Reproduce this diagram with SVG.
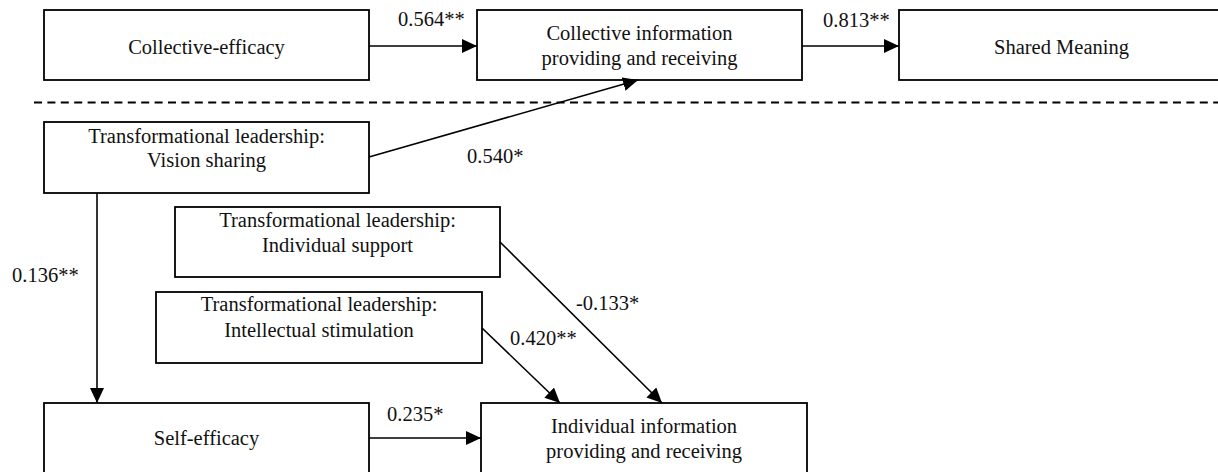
<svg xmlns="http://www.w3.org/2000/svg" width="1218" height="472" viewBox="0 0 1218 472">
<style>
.box{fill:#fff;stroke:#000;stroke-width:1.8}
.t{font-family:'Liberation Serif','DejaVu Serif',serif;font-size:20.5px;fill:#111}
.m{text-anchor:middle}
.c{stroke:#000;stroke-width:1.6;fill:none;marker-end:url(#ah)}
</style>
<defs>
<marker id="ah" markerUnits="userSpaceOnUse" markerWidth="16" markerHeight="15" refX="15" refY="7" orient="auto">
<path d="M0,0 L15,7 L0,14 z" fill="#000"/>
</marker>
</defs>
<rect width="1218" height="472" fill="#fff"/>
<line x1="34" y1="102.5" x2="1218" y2="102.5" stroke="#000" stroke-width="2" stroke-dasharray="8,5.4"/>
<g id="collective-efficacy"><rect class="box" x="44" y="10" width="325" height="70"/><text class="t m" x="206.5" y="54">Collective-efficacy</text></g>
<g id="collective-info"><rect class="box" x="477" y="10" width="325" height="70"/><text class="t m" x="639.5" y="40">Collective information</text><text class="t m" x="639.5" y="65">providing and receiving</text></g>
<g id="shared-meaning"><rect class="box" x="899" y="10" width="325" height="70"/><text class="t m" x="1061.5" y="54">Shared Meaning</text></g>
<g id="vision"><rect class="box" x="44" y="122" width="325" height="71"/><text class="t m" x="206.5" y="143">Transformational leadership:</text><text class="t m" x="206.5" y="167">Vision sharing</text></g>
<g id="support"><rect class="box" x="175" y="207" width="325" height="70"/><text class="t m" x="337.5" y="227">Transformational leadership:</text><text class="t m" x="337.5" y="252">Individual support</text></g>
<g id="stimulation"><rect class="box" x="156" y="292" width="326" height="71"/><text class="t m" x="319" y="311">Transformational leadership:</text><text class="t m" x="319" y="337">Intellectual stimulation</text></g>
<g id="self-efficacy"><rect class="box" x="44" y="403" width="325" height="72"/><text class="t m" x="206.5" y="445">Self-efficacy</text></g>
<g id="individual-info"><rect class="box" x="481" y="403" width="326" height="72"/><text class="t m" x="644" y="433">Individual information</text><text class="t m" x="644" y="458">providing and receiving</text></g>
<g id="connectors">
<line class="c" x1="369" y1="46" x2="477" y2="46"/>
<line class="c" x1="802" y1="46" x2="899" y2="46"/>
<line class="c" x1="369" y1="157" x2="638" y2="80"/>
<line class="c" x1="97" y1="193" x2="97" y2="403"/>
<line class="c" x1="369" y1="438" x2="481" y2="438"/>
<line class="c" x1="482" y1="328" x2="560" y2="403"/>
<line class="c" x1="500" y1="242" x2="662" y2="403"/>
</g>
<g id="labels">
<text class="t" x="398" y="26">0.564**</text>
<text class="t" x="823" y="27">0.813**</text>
<text class="t" x="467" y="163">0.540*</text>
<text class="t" x="12" y="282">0.136**</text>
<text class="t" x="576" y="310">-0.133*</text>
<text class="t" x="510" y="345">0.420**</text>
<text class="t" x="387" y="421">0.235*</text>
</g>
</svg>
